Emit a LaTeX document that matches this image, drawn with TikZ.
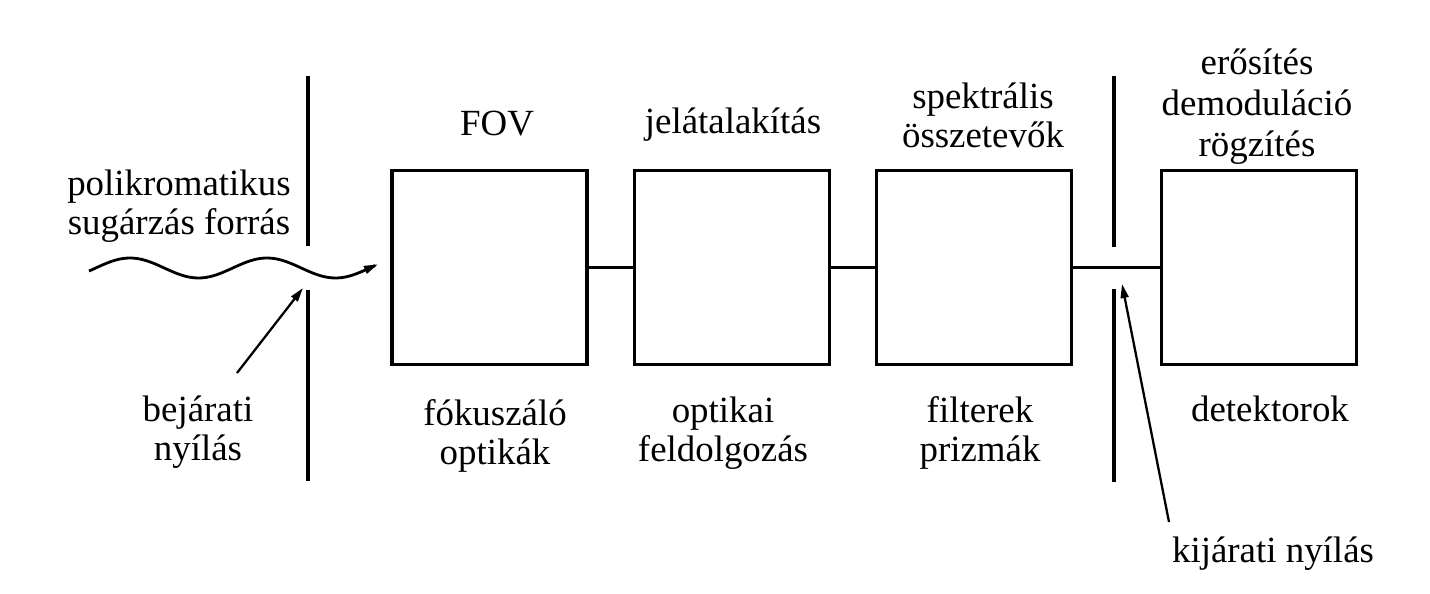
\documentclass[tikz,border=0pt]{standalone}
\usepackage{fontspec}
\setmainfont{Liberation Serif}
\usetikzlibrary{arrows.meta}

\begin{document}
\begin{tikzpicture}[x=0.02cm,y=-0.02cm,
  font=\fontsize{21}{22.2}\selectfont,
  blokk/.style={draw,line width=2.2pt,minimum width=3.9cm,minimum height=3.88cm,inner sep=0pt},
  felirat/.style={align=center,inner sep=0pt},
  vonal/.style={line width=1.6pt},
  res/.style={line width=1.9pt},
  nyil/.style={line width=1.3pt,-{Triangle[length=8pt,width=4.5pt]}}]

\useasboundingbox (0,0) rectangle (1430,594);

%====================================================
% Blocks
%====================================================
\node[blokk] (fov) at (489.5,267.5) {};
\node[blokk] (jel) at (732,267.5) {};
\node[blokk] (spek) at (974,267.5) {};
\node[blokk] (det) at (1259,267.5) {};

% Connections
\draw[vonal] (fov) -- (jel);
\draw[vonal] (jel) -- (spek);
\draw[vonal] (spek) -- (det);

%====================================================
% Slits
%====================================================
\coordinate (be1) at (308,76);
\coordinate (be2) at (308,246);
\coordinate (be3) at (308,290);
\coordinate (be4) at (308,481);
\draw[res] (be1) -- (be2);
\draw[res] (be3) -- (be4);

\coordinate (ki1) at (1114,76);
\coordinate (ki2) at (1114,247);
\coordinate (ki3) at (1114,289);
\coordinate (ki4) at (1114,482);
\draw[res] (ki1) -- (ki2);
\draw[res] (ki3) -- (ki4);

%====================================================
% Radiation
%====================================================
\draw[nyil,line width=1.6pt] plot[domain=89:378,samples=80,smooth]
  (\x,{268-10*cos(2.6277*(\x-130))});

%====================================================
% Labels
%====================================================
\node[felirat] (forras) at (179,206) {polikromatikus\\sugárzás forrás};
\node[felirat] (bejarat) at (198,432) {bejárati\\nyílás};

\node[felirat] (fovfel) at (497,124) {FOV};
\node[felirat] (jelfel) at (733,125) {jelátalakítás};
\node[felirat] (spekfel) at (983,115) {spektrális\\összetevők};
\node[felirat,font=\fontsize{21}{23.4}\selectfont] (erfel) at (1257,107) {erősítés\\demoduláció\\rögzítés};

\node[felirat] (fokfel) at (495,436) {fókuszáló\\optikák};
\node[felirat] (optfel) at (723,433) {optikai\\feldolgozás};
\node[felirat] (filtfel) at (980,433) {filterek\\prizmák};
\node[felirat] (detfel) at (1270,409) {detektorok};
\node[felirat] (kijarat) at (1273,554) {kijárati nyílás};

% Slit pointers
\coordinate (bea) at (237,373);
\coordinate (beb) at (303,288);
\draw[nyil] (bea) -- (beb);

\coordinate (kia) at (1169,522);
\coordinate (kib) at (1122,284);
\draw[nyil] (kia) -- (kib);

\end{tikzpicture}
\end{document}
